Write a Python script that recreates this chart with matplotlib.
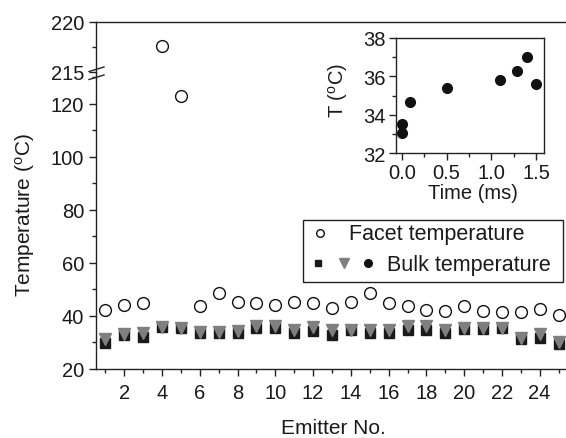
import matplotlib
matplotlib.use("Agg")
import matplotlib.pyplot as plt
from matplotlib.lines import Line2D
from matplotlib.patches import Rectangle
from matplotlib.ticker import MultipleLocator, FixedLocator, FormatStrFormatter

plt.rcParams['font.family'] = ['Liberation Sans', 'DejaVu Sans']
plt.rcParams['mathtext.fontset'] = 'custom'
plt.rcParams['mathtext.rm'] = 'Liberation Sans'
plt.rcParams['mathtext.it'] = 'Liberation Sans'

# ---------------- data ----------------
emitters = list(range(1, 26))
facet_temp = [42.3, 44.1, 44.7, 217.6, 122.7, 43.8, 48.5, 45.4, 44.8, 44.1,
              45.3, 44.9, 42.8, 45.4, 48.6, 44.8, 43.6, 42.2, 41.9, 43.6,
              41.9, 41.3, 41.5, 42.6, 40.3]
bulk_square = [29.8, 32.9, 32.1, 35.7, 35.3, 33.4, 33.4, 33.4, 35.4, 35.4,
               33.4, 34.2, 32.9, 34.7, 33.4, 33.4, 34.7, 34.7, 33.4, 35.0,
               35.0, 35.4, 31.3, 31.7, 29.4]
bulk_triangle = [31.4, 33.1, 33.5, 36.0, 35.4, 34.1, 34.1, 34.5, 36.2, 36.2,
                 34.7, 36.0, 34.7, 34.7, 34.7, 34.7, 36.2, 36.2, 34.7, 35.6,
                 35.6, 35.6, 31.6, 33.2, 30.1]
inset_time = [0.0, 0.0, 0.09, 0.5, 1.1, 1.29, 1.4, 1.5]
inset_temp = [33.5, 33.04, 34.67, 35.37, 35.82, 36.29, 37.02, 35.59]

W, H = 566, 439
fig = plt.figure(figsize=(W / 100, H / 100), dpi=100)

def fx(px):
    return px / W

def fy(py):
    return (H - py) / H

FS_TICK = 14.5
FS_LAB = 15
FS_LEG = 15.5
TXT = '#1a1a1a'

ax_lo = fig.add_axes([fx(96), fy(370), fx(568) - fx(96), fy(73) - fy(370)])
ax_hi = fig.add_axes([fx(96), fy(73), fx(568) - fx(96), fy(23) - fy(73)], sharex=ax_lo)

for ax in (ax_lo, ax_hi):
    ax.plot(emitters, facet_temp, linestyle='none', marker='o', ms=8.5,
            mfc='white', mec='#111111', mew=1.0, zorder=3)
    for s in ax.spines.values():
        s.set_linewidth(1.0)
        s.set_color('#222222')
    ax.spines['right'].set_visible(False)
    ax.tick_params(which='both', direction='out', colors='#222222',
                   labelcolor=TXT, labelsize=FS_TICK, width=1.0)
    ax.tick_params(which='major', length=5)
    ax.tick_params(which='minor', length=3)

ax_lo.plot(emitters, bulk_square, linestyle='none', marker='s', ms=7,
           mfc='#1a1a1a', mec='#1a1a1a', zorder=3)
ax_lo.plot(emitters, bulk_triangle, linestyle='none', marker='v', ms=9,
           mfc='#7f7f7f', mec='#7f7f7f', zorder=4)

ax_lo.set_xlim(0.5, 25.5)
ax_lo.set_ylim(20, 20 + 297 / 2.655)
ax_lo.xaxis.set_major_locator(MultipleLocator(2))
ax_lo.xaxis.set_minor_locator(MultipleLocator(1))
ax_lo.yaxis.set_major_locator(FixedLocator([20, 40, 60, 80, 100, 120]))
ax_lo.yaxis.set_minor_locator(FixedLocator([30, 50, 70, 90, 110, 130]))
ax_lo.spines['top'].set_visible(False)
ax_lo.tick_params(axis='x', pad=5)

ax_hi.set_ylim(215, 220)
ax_hi.yaxis.set_major_locator(FixedLocator([215, 220]))
ax_hi.yaxis.set_minor_locator(FixedLocator([217.5]))
ax_hi.spines['bottom'].set_visible(False)
ax_hi.tick_params(axis='x', which='both', bottom=False, labelbottom=False)

ax_lo.set_xlabel('Emitter No.', fontsize=FS_LAB, color=TXT)
ax_lo.xaxis.set_label_coords((333 - 96) / 472, -(419 - 370) / 297)
ax_lo.set_ylabel('Temperature ($^{o}$C)', fontsize=FS_LAB, color=TXT)
ax_lo.yaxis.set_label_coords(-(96 - 37) / 472, (370 - 215) / 297)

# axis break marks
for dy in (0, 8):
    fig.add_artist(Line2D([fx(89), fx(104)], [fy(72.5 + dy), fy(68 + dy)],
                          color='#222222', lw=1.0))

# legend (drawn manually, Origin style)
fig.add_artist(Rectangle((fx(303), fy(283)), fx(563) - fx(303), fy(221) - fy(283),
                         fill=False, ec='#222222', lw=1.0))
fig.add_artist(Line2D([fx(320)], [fy(234)], marker='o', ms=5.5, mfc='white',
                      mec='#111111', mew=1.0, linestyle='none'))
fig.text(fx(349), fy(235), 'Facet temperature', fontsize=FS_LEG, color=TXT,
         ha='left', va='center')
fig.add_artist(Line2D([fx(318)], [fy(264)], marker='s', ms=5, mfc='#1a1a1a',
                      mec='#1a1a1a', linestyle='none'))
fig.add_artist(Line2D([fx(344)], [fy(264)], marker='v', ms=6.5, mfc='#7f7f7f',
                      mec='#7f7f7f', linestyle='none'))
fig.add_artist(Line2D([fx(368)], [fy(264)], marker='o', ms=5.5, mfc='#111111',
                      mec='#111111', linestyle='none'))
fig.text(fx(387), fy(265), 'Bulk temperature', fontsize=FS_LEG, color=TXT,
         ha='left', va='center')

# inset
axi = fig.add_axes([fx(395.7), fy(154), fx(544.3) - fx(395.7), fy(39) - fy(154)])
axi.plot(inset_time, inset_temp, linestyle='none', marker='o', ms=7,
         mfc='#111111', mec='#111111')
axi.set_xlim(-0.067, 1.59)
axi.set_ylim(32, 38)
axi.xaxis.set_major_locator(MultipleLocator(0.5))
axi.xaxis.set_minor_locator(MultipleLocator(0.25))
axi.yaxis.set_major_locator(MultipleLocator(2))
axi.yaxis.set_minor_locator(MultipleLocator(1))
axi.xaxis.set_major_formatter(FormatStrFormatter('%.1f'))
for s in axi.spines.values():
    s.set_linewidth(1.0)
    s.set_color('#222222')
axi.tick_params(which='both', direction='out', colors='#222222',
                labelcolor=TXT, labelsize=FS_TICK, width=1.0, pad=2)
axi.tick_params(which='major', length=5)
axi.tick_params(which='minor', length=3)
axi.set_xlabel('Time (ms)', fontsize=FS_TICK, color=TXT)
axi.xaxis.set_label_coords((473 - 395.7) / 148.6, -(184 - 154) / 115)
axi.set_ylabel('T ($^{o}$C)', fontsize=FS_TICK, color=TXT)
axi.yaxis.set_label_coords(-(395.7 - 350) / 148.6, (154 - 90) / 115)

fig.savefig('out.png', dpi=100)
